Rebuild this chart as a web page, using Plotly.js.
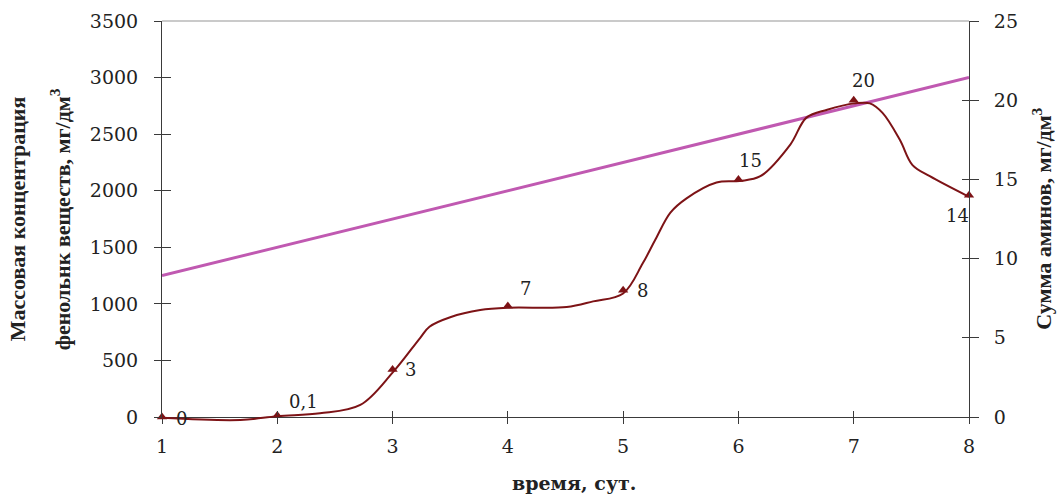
<!DOCTYPE html>
<html>
<head>
<meta charset="utf-8">
<script src="https://cdn.plot.ly/plotly-3.0.1.min.js"></script>
<style>html,body{margin:0;padding:0;background:#fff;}#chart{width:1057px;height:498px;}</style>
</head>
<body>
<div id="chart"></div>
<script>
// Day ticks
const days = [1, 2, 3, 4, 5, 6, 7, 8];
// Phenol mass concentration, mg/dm3 (left axis)
const phenol = [1250, 1500, 1750, 2000, 2250, 2500, 2750, 3000];
// Sum of amines, mg/dm3 (right axis) – measured points
const amines = [0, 0.1, 3, 7, 8, 15, 20, 14];
const amineLabels = ["0", "0,1", "3", "7", "8", "15", "20", "14"];
// Smoothed amine curve
const curveX = [1.00, 1.68, 2.00, 2.37, 2.72, 3.00, 3.24, 3.32, 3.50, 3.76, 4.01, 4.51, 4.74, 5.00, 5.17, 5.28, 5.41, 5.55, 5.81, 6.01, 6.19, 6.45, 6.59, 6.77, 7.01, 7.14, 7.25, 7.40, 7.51, 7.66, 8.00];
const curveY = [-0.05, -0.19, 0.05, 0.23, 0.76, 2.8, 5.0, 5.7, 6.3, 6.75, 6.9, 6.94, 7.3, 7.8, 9.7, 11.2, 12.9, 13.8, 14.8, 14.9, 15.2, 17.2, 18.9, 19.4, 19.8, 19.8, 19.2, 17.5, 15.9, 15.2, 13.9];

const labelShiftX = [19, 26, 18, 18, 19, 12, 10, -12];
const labelShiftY = [-1, 14, 0, 18, 0, 19, 20, -20];

const axisColor = '#3a3a3a';
const numFont = {family: 'DejaVu Serif', size: 18, color: '#222'};
const red = '#7d1316';

// plot area extends 10px below the x axis so the curve can dip under zero
const plotH = 406, extra = 10;
const dom = [extra / plotH, 1];
const y2max = 25;
const y5min = -y2max * extra / (plotH - extra);

const traces = [
  {x: curveX, y: curveY, type: 'scatter', mode: 'lines', yaxis: 'y5',
   line: {color: red, width: 2, shape: 'spline', smoothing: 1.0}, hoverinfo: 'skip'},
  {x: days, y: phenol, type: 'scatter', mode: 'lines', yaxis: 'y',
   line: {color: '#c059b1', width: 3}, hoverinfo: 'skip'},
  {x: days, y: amines, type: 'scatter', mode: 'markers', yaxis: 'y2', cliponaxis: false,
   marker: {symbol: 'triangle-up', size: 9, color: red}, hoverinfo: 'skip'}
];

const annotations = days.map((d, i) => ({
  x: d, y: amines[i], xref: 'x', yref: 'y2', text: amineLabels[i],
  showarrow: false, xshift: labelShiftX[i], yshift: labelShiftY[i],
  font: numFont
}));

const titleFont = {family: 'Liberation Serif', size: 22, color: '#222', weight: 'bold'};
const midY = (427 - 219) / plotH;
annotations.push(
  {xref: 'paper', yref: 'paper', x: -0.178, y: midY, text: '<b>Массовая концентрация</b>', textangle: -90,
   showarrow: false, font: titleFont, xanchor: 'center', yanchor: 'middle'},
  {xref: 'paper', yref: 'paper', x: -0.126, y: midY, text: '<b>фенольнк веществ, мг/дм<sup>3</sup></b>', textangle: -90,
   showarrow: false, font: titleFont, xanchor: 'center', yanchor: 'middle'},
  {xref: 'paper', yref: 'paper', x: 1.09, y: midY, text: '<b>Сумма аминов, мг/дм<sup>3</sup></b>', textangle: -90,
   showarrow: false, font: titleFont, xanchor: 'center', yanchor: 'middle'},
  {xref: 'paper', yref: 'paper', x: 0.51, y: (427 - 483) / plotH, text: '<b>время, сут.</b>',
   showarrow: false, font: {family: 'DejaVu Serif', size: 19, color: '#222'}, xanchor: 'center', yanchor: 'middle'}
);

const baseAxis = {showgrid: false, zeroline: false, showline: true, linecolor: axisColor, linewidth: 1,
  tickcolor: axisColor, tickwidth: 1, tickfont: {family: 'DejaVu Serif', size: 19, color: '#222'}};

const layout = {
  width: 1057, height: 498,
  margin: {l: 162, r: 88, t: 21, b: 71},
  paper_bgcolor: '#fff', plot_bgcolor: 'rgba(0,0,0,0)',
  showlegend: false,
  xaxis: Object.assign({}, baseAxis, {range: [1, 8], tickvals: days, ticktext: days.map(String),
    ticks: 'outside', ticklen: 6, ticklabelstandoff: 6, anchor: 'y'}),
  xaxis2: Object.assign({}, baseAxis, {overlaying: 'x', range: [1, 8], tickvals: days, anchor: 'y',
    ticks: 'inside', ticklen: 6, showticklabels: false}),
  yaxis: Object.assign({}, baseAxis, {domain: dom, range: [0, 3500], dtick: 500, tick0: 0,
    ticks: 'outside', ticklen: 7, ticklabelstandoff: 12}),
  yaxis2: Object.assign({}, baseAxis, {domain: dom, overlaying: 'y', side: 'right', range: [0, y2max], dtick: 5, tick0: 0,
    ticks: 'outside', ticklen: 9, ticklabelstandoff: 11}),
  yaxis3: Object.assign({}, baseAxis, {domain: dom, overlaying: 'y', range: [0, 3500], dtick: 500, tick0: 0,
    ticks: 'inside', ticklen: 9, showticklabels: false}),
  yaxis4: Object.assign({}, baseAxis, {domain: dom, overlaying: 'y', side: 'right', range: [0, y2max], dtick: 5, tick0: 0,
    ticks: 'inside', ticklen: 7, showticklabels: false}),
  yaxis5: {domain: [0, 1], range: [y5min, y2max], visible: false, anchor: 'x', showgrid: false, zeroline: false},
  shapes: [{type: 'line', xref: 'paper', yref: 'paper', x0: 0, x1: 1, y0: 1, y1: 1,
    line: {color: '#b8b8b8', width: 1.5}}],
  annotations: annotations
};

// invisible traces to activate overlay axes
traces.push({x: [1], y: [0], xaxis: 'x2', yaxis: 'y3', mode: 'markers', marker: {opacity: 0}, hoverinfo: 'skip'});
traces.push({x: [1], y: [0], xaxis: 'x2', yaxis: 'y4', mode: 'markers', marker: {opacity: 0}, hoverinfo: 'skip'});

Plotly.newPlot('chart', traces, layout, {displayModeBar: false, staticPlot: true});
</script>
</body>
</html>
